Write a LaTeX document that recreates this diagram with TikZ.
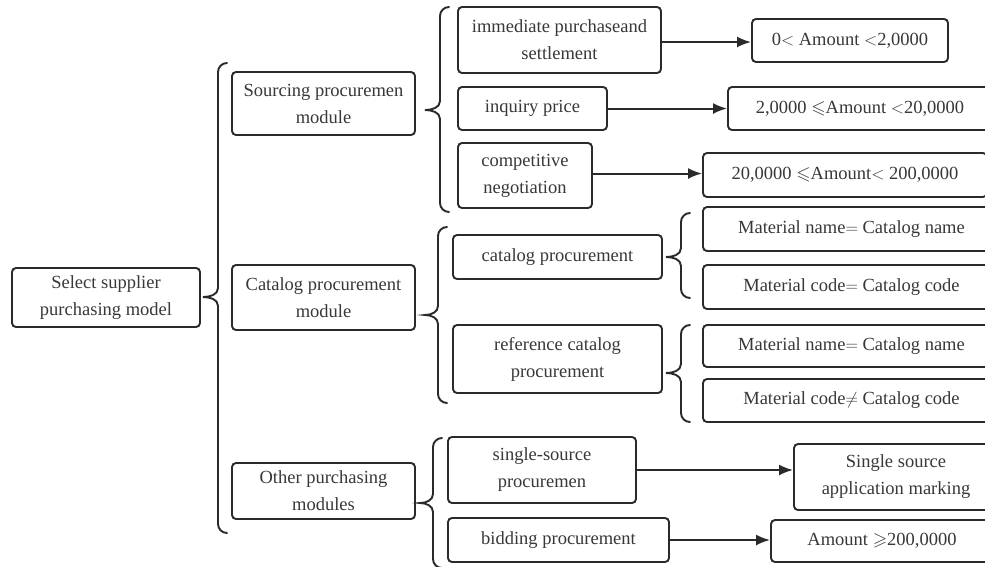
\documentclass[tikz,border=0pt]{standalone}
\usepackage{fontspec}
\usepackage{amssymb}
\setmainfont{Liberation Serif}
\newfontfamily\tnr{Liberation Serif}
\usetikzlibrary{arrows.meta,calc}
\definecolor{ln}{HTML}{2A2A2A}
\definecolor{tx}{HTML}{383838}
\tikzset{
 box/.style={draw=ln, line width=1.9pt, rounded corners=4pt, align=center, inner sep=0pt, text=tx, font=\tnr\fontsize{18.5}{27}\selectfont},
 arr/.style={draw=ln, line width=2pt, -{Latex[length=14pt,width=11pt]}},
 brc/.style={draw=ln, line width=1.9pt, line cap=round},
}
% #1 name, #2 cx, #3 cy, #4 width, #5 height, #6 text
\newcommand\bx[6]{\node[box, minimum width=#4pt, minimum height=#5pt] (#1) at (#2,#3) {#6};}
% #1 tip x, #2 tip y, #3 line x, #4 top y, #5 bottom y
\newcommand\cbr[5]{\draw[brc] ({#3+9},#4) to[out=180,in=90] (#3,{#4+9}) -- (#3,{#2-9}) to[out=-90,in=0] (#1,#2) to[out=0,in=90] (#3,{#2+9}) -- (#3,{#5-9}) to[out=-90,in=180] ({#3+9},#5);}
\begin{document}
\begin{tikzpicture}[x=1pt,y={(0,-1pt)}]
\useasboundingbox (0,0) rectangle (985,566);
\fill[white] (0,0) rectangle (985,566);
\clip (0,0) rectangle (985,566);
% level 0
\bx{root}{106}{297.5}{188}{59}{Select supplier\\purchasing model}
% level 1
\bx{src}{323.5}{103.5}{183}{63}{Sourcing procuremen\\module}
\bx{cat}{323.5}{297.5}{183}{65}{Catalog procurement\\module}
\bx{oth}{323.5}{491}{183}{56}{Other purchasing\\modules}
% sourcing
\bx{imm}{559.5}{40}{203}{66}{immediate purchaseand\\settlement}
\bx{inq}{532.5}{108.5}{149}{43}{inquiry price}
\bx{comp}{525}{175.5}{134}{65}{competitive\\negotiation}
\bx{ra}{850}{40.5}{196}{43}{0{$<$} Amount {$<$}2,0000}
\bx{rb}{860}{108.5}{264}{43}{2,0000 {$\leqslant$}Amount {$<$}20,0000}
\bx{rc}{845}{175}{284}{44}{20,0000 {$\leqslant$}Amount{$<$} 200,0000}
% catalog
\bx{catp}{557.5}{257}{209}{44}{catalog procurement}
\bx{refp}{557.5}{359}{209}{68}{reference catalog\\procurement}
\bx{ma}{851.5}{229}{297}{44}{Material name{$=$} Catalog name}
\bx{mb}{851.5}{287}{297}{44}{Material code{$=$} Catalog code}
\bx{mc}{851.5}{346}{297}{42}{Material name{$=$} Catalog name}
\bx{md}{851.5}{400.5}{297}{43}{Material code{$\neq$} Catalog code}
% other
\bx{ss}{542}{470}{188}{66}{single-source\\procuremen}
\bx{bid}{558.5}{540}{221}{44}{bidding procurement}
\bx{ssa}{896}{477}{204}{66}{Single source\\application marking}
\bx{amt}{882}{541}{222}{42}{Amount {$\geqslant$}200,0000}
% arrows
\draw[arr] ($(imm.east)+(0,2)$) -- ($(imm.east -| ra.west)+(0,2)$);
\draw[arr] (inq.east) -- (inq.east -| rb.west);
\draw[arr] ($(comp.east)+(0,-2)$) -- ($(comp.east -| rc.west)+(0,-2)$);
\draw[arr] (ss.east) -- (ss.east -| ssa.west);
\draw[arr] (bid.east) -- (bid.east -| amt.west);
% braces
\cbr{203}{297}{218}{63}{533}
\cbr{425}{110}{440}{7}{212}
\cbr{425}{315}{438}{227}{403}
\cbr{420}{503}{433}{438}{568}
\cbr{666}{257}{681}{213}{298}
\cbr{666}{373}{681}{325}{422}
\end{tikzpicture}
\end{document}
